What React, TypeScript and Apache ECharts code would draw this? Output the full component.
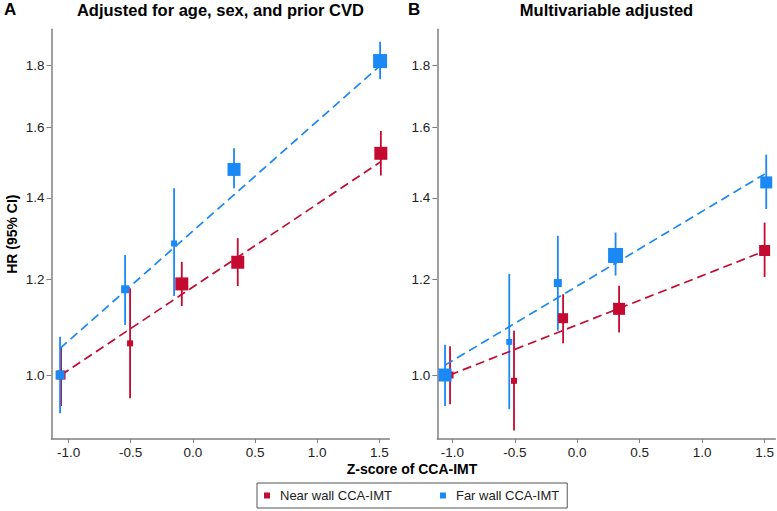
import React, { useEffect, useRef } from "react";
import * as echarts from "echarts";

const FONT = "'Liberation Sans', Arial, Helvetica, sans-serif";
const RED = "#C40A30";
const BLUE = "#1A88F5";

const xTicks = [-1.0, -0.5, 0.0, 0.5, 1.0, 1.5];
const yTicks = [1.0, 1.2, 1.4, 1.6, 1.8];

// Panel A: Adjusted for age, sex, and prior CVD
const aNearX = [-1.06, -0.505, -0.089, 0.361, 1.512];
const aNearHR = [1.0, 1.062, 1.189, 1.239, 1.524];
const aNearLo = [0.943, 0.957, 1.14, 1.184, 1.461];
const aNearHi = [1.055, 1.179, 1.24, 1.297, 1.59];
const aNearSize = [9, 6, 13, 13, 13];

const aFarX = [-1.068, -0.545, -0.151, 0.331, 1.506];
const aFarHR = [1.0, 1.177, 1.284, 1.478, 1.816];
const aFarLo = [0.93, 1.1, 1.162, 1.426, 1.754];
const aFarHi = [1.0755, 1.256, 1.426, 1.539, 1.884];
const aFarSize = [9, 8, 6, 13, 14];

const aNearFitX = [-1.06, 1.512];
const aNearFitY = [1.0, 1.5];
const aFarFitX = [-1.068, 1.506];
const aFarFitY = [1.052, 1.8];

// Panel B: Multivariable adjusted
const bNearX = [-1.018, -0.506, -0.113, 0.335, 1.5];
const bNearHR = [1.0, 0.989, 1.114, 1.134, 1.267];
const bNearLo = [0.946, 0.9, 1.062, 1.084, 1.205];
const bNearHi = [1.056, 1.088, 1.166, 1.185, 1.336];
const bNearSize = [7, 6, 10, 12, 11];

const bFarX = [-1.058, -0.544, -0.155, 0.307, 1.513];
const bFarHR = [1.0, 1.065, 1.191, 1.255, 1.442];
const bFarLo = [0.943, 0.937, 1.088, 1.208, 1.371];
const bFarHi = [1.059, 1.212, 1.303, 1.311, 1.52];
const bFarSize = [13, 6, 8, 15, 12];

const bNearFitX = [-1.02, 1.47];
const bNearFitY = [1.0, 1.262];
const bFarFitX = [-1.058, 1.5];
const bFarFitY = [1.019, 1.465];

const L = Math.log;

function xAxis(gridIndex: number, min: number, max: number) {
  return {
    type: "value",
    gridIndex,
    min,
    max,
    axisLine: { show: true, onZero: false, lineStyle: { color: "#808080", width: 1.5 } },
    axisTick: { show: true, length: 4, customValues: xTicks, lineStyle: { color: "#808080" } },
    axisLabel: {
      customValues: xTicks,
      formatter: (v: number) => v.toFixed(1),
      color: "#222",
      fontSize: 13.5,
      margin: 6,
      fontFamily: FONT,
    },
    splitLine: { show: false },
  };
}

function yAxis(gridIndex: number, withName: boolean) {
  const ticks = yTicks.map(L);
  return {
    type: "value",
    gridIndex,
    min: L(0.8855),
    max: L(1.929),
    name: withName ? "HR (95% CI)" : "",
    nameLocation: "middle",
    nameGap: 33,
    nameTextStyle: { fontFamily: FONT, fontWeight: "bold", fontSize: 14, color: "#000" },
    axisLine: { show: true, onZero: false, lineStyle: { color: "#808080", width: 1.5 } },
    axisTick: { show: true, length: 5, customValues: ticks, lineStyle: { color: "#808080" } },
    axisLabel: {
      customValues: ticks,
      formatter: (v: number) => Math.exp(v).toFixed(1),
      color: "#222",
      fontSize: 13.5,
      margin: 7,
      fontFamily: FONT,
    },
    splitLine: { show: false },
  };
}

function errSeries(idx: number, xs: number[], lo: number[], hi: number[], color: string) {
  return {
    type: "custom",
    xAxisIndex: idx,
    yAxisIndex: idx,
    silent: true,
    z: 2,
    encode: { x: 0, y: [1, 2] },
    data: xs.map((x, i) => [x, L(lo[i]), L(hi[i])]),
    renderItem: (_p: any, api: any) => {
      const p1 = api.coord([api.value(0), api.value(1)]);
      const p2 = api.coord([api.value(0), api.value(2)]);
      return {
        type: "line",
        shape: { x1: p1[0], y1: p1[1], x2: p2[0], y2: p2[1] },
        style: { stroke: color, lineWidth: 1.8 },
      };
    },
  };
}

function fitSeries(idx: number, xs: number[], ys: number[], color: string) {
  return {
    type: "line",
    xAxisIndex: idx,
    yAxisIndex: idx,
    silent: true,
    z: 3,
    symbol: "none",
    data: xs.map((x, i) => [x, L(ys[i])]),
    lineStyle: { color, width: 1.7, type: [9, 5] },
  };
}

function pointSeries(idx: number, name: string, xs: number[], hr: number[], sizes: number[], color: string, z: number) {
  return {
    type: "scatter",
    name,
    xAxisIndex: idx,
    yAxisIndex: idx,
    symbol: "rect",
    z,
    itemStyle: { color, opacity: 1 },
    data: xs.map((x, i) => ({ value: [x, L(hr[i])], symbolSize: sizes[i] })),
  };
}

export default function App() {
  const ref = useRef<HTMLDivElement>(null);
  useEffect(() => {
    const chart = echarts.init(ref.current!, null, { renderer: "svg" });
    const option: any = {
      animation: false,
      backgroundColor: "#fff",
      textStyle: { fontFamily: FONT },
      grid: [
        { left: 51.5, top: 29.3, width: 337.8, height: 409.7 },
        { left: 437.3, top: 29.3, width: 338.4, height: 409.7 },
      ],
      xAxis: [xAxis(0, -1.137, 1.58), xAxis(1, -1.12, 1.586)],
      yAxis: [yAxis(0, true), yAxis(1, false)],
      legend: {
        left: 257,
        top: 483,
        orient: "horizontal",
        borderColor: "#555",
        borderWidth: 1,
        borderRadius: 0,
        padding: [6, 8, 6, 7],
        itemWidth: 6,
        itemHeight: 6,
        itemGap: 48,
        textStyle: { fontFamily: FONT, fontSize: 13, color: "#222", padding: [0, 0, 0, 5] },
        data: [
          { name: "Near wall CCA-IMT", icon: "rect" },
          { name: "Far wall CCA-IMT", icon: "rect" },
        ],
      },
      graphic: [
        { type: "text", left: 4, top: 1, style: { text: "A", font: `bold 17px ${FONT}`, fill: "#000" } },
        { type: "text", left: 408, top: 1, style: { text: "B", font: `bold 17px ${FONT}`, fill: "#000" } },
        {
          type: "text",
          x: 220.4,
          y: 10,
          style: { text: "Adjusted for age, sex, and prior CVD", font: `bold 16.5px ${FONT}`, fill: "#000", align: "center", verticalAlign: "middle" },
        },
        {
          type: "text",
          x: 606.5,
          y: 10,
          style: { text: "Multivariable adjusted", font: `bold 16.5px ${FONT}`, fill: "#000", align: "center", verticalAlign: "middle" },
        },
        {
          type: "text",
          x: 412,
          y: 469,
          style: { text: "Z-score of CCA-IMT", font: `bold 14px ${FONT}`, fill: "#000", align: "center", verticalAlign: "middle" },
        },
      ],
      series: [
        errSeries(0, aNearX, aNearLo, aNearHi, RED),
        errSeries(0, aFarX, aFarLo, aFarHi, BLUE),
        fitSeries(0, aNearFitX, aNearFitY, RED),
        fitSeries(0, aFarFitX, aFarFitY, BLUE),
        pointSeries(0, "Near wall CCA-IMT", aNearX, aNearHR, aNearSize, RED, 4),
        pointSeries(0, "Far wall CCA-IMT", aFarX, aFarHR, aFarSize, BLUE, 5),
        errSeries(1, bNearX, bNearLo, bNearHi, RED),
        errSeries(1, bFarX, bFarLo, bFarHi, BLUE),
        fitSeries(1, bNearFitX, bNearFitY, RED),
        fitSeries(1, bFarFitX, bFarFitY, BLUE),
        pointSeries(1, "Near wall CCA-IMT", bNearX, bNearHR, bNearSize, RED, 4),
        pointSeries(1, "Far wall CCA-IMT", bFarX, bFarHR, bFarSize, BLUE, 5),
      ],
    };
    chart.setOption(option);
    return () => chart.dispose();
  }, []);
  return <div ref={ref} style={{ position: "fixed", left: 0, top: 0, width: 777, height: 511 }} />;
}
